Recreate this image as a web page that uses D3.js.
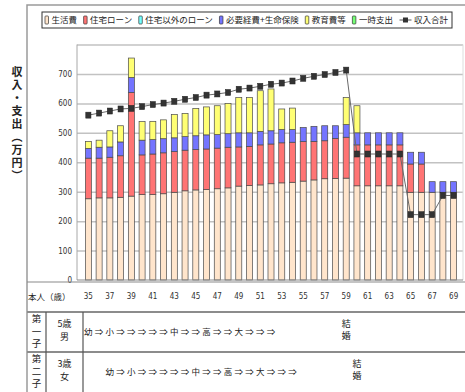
<!DOCTYPE html>
<html>
<head>
<meta charset="utf-8">
<script src="https://cdn.jsdelivr.net/npm/d3@7"></script>
<style>
  html, body { margin: 0; padding: 0; background: #fff; }
  svg { display: block; font-family: "Noto Sans CJK JP", "Noto Sans", sans-serif; }
</style>
</head>
<body>
<svg id="chart" width="465" height="392"></svg>
<script>
// 本人の年齢（横軸）
const ages = [35,36,37,38,39,40,41,42,43,44,45,46,47,48,49,50,51,52,53,54,55,56,57,58,59,60,61,62,63,64,65,66,67,68,69];
const ageLabels = [35,37,39,41,43,45,47,49,51,53,55,57,59,61,63,65,67,69];

// 支出の内訳（万円）
const seriesNames = ["生活費", "住宅ローン", "住宅以外のローン", "必要経費+生命保険", "教育費等", "一時支出"];
const living      = [276,279,279,281,285,290,290,293,298,303,306,307,310,313,319,321,323,327,330,332,336,340,344,345,346,320,320,320,320,320,298,298,298,298,298];
const housingLoan = [138,135,138,141,352,135,138,139,138,138,137,138,138,138,133,133,136,135,136,136,134,131,129,136,139,139,139,139,139,139,96,96,0,0,0];
const otherLoan   = [0,0,0,0,0,0,0,0,0,0,0,0,0,0,0,0,0,0,0,0,0,0,0,0,0,0,0,0,0,0,0,0,0,0,0];
const expenses    = [33,37,35,47,51,50,49,48,47,46,47,48,46,46,48,46,46,45,45,43,48,51,51,43,43,41,41,41,41,41,40,40,36,36,36];
const education   = [24,24,55,55,66,63,62,64,79,79,93,95,98,103,120,120,138,142,70,73,0,0,0,0,92,92,0,0,0,0,0,0,0,0,0];
const oneTime     = [0,0,0,0,0,0,0,0,0,0,0,0,0,0,0,0,0,0,0,0,0,0,0,0,0,0,0,0,0,0,0,0,0,0,0];

// 収入合計（万円）
const incomeName  = "収入合計";
const incomeTotal = [560,567,574,581,583,589,596,601,607,614,620,628,632,637,648,652,658,665,669,676,685,692,698,705,713,428,428,428,428,428,222,222,222,287,287];

const yTicks = [0,100,200,300,400,500,600,700];

// 子どものライフイベント
const children = [
  { title: "第一子", info: ["5歳", "男"], stages: "幼⇒小⇒⇒⇒⇒⇒中⇒⇒高⇒⇒大⇒⇒⇒", startAge: 35, weddingAge: 59 },
  { title: "第二子", info: ["3歳", "女"], stages: "幼⇒小⇒⇒⇒⇒⇒中⇒⇒高⇒⇒大⇒⇒⇒", startAge: 37, weddingAge: 60 }
];

const colors = {
  "生活費": "#ffe5cc",
  "住宅ローン": "#ff7474",
  "住宅以外のローン": "#74ffff",
  "必要経費+生命保険": "#7474ff",
  "教育費等": "#ffff74",
  "一時支出": "#74ff74"
};

const svg = d3.select("#chart");

// frame geometry
const frameLeft = 27, frameTop = 5, W = 465, H = 392;
const plotLeft = 77, plotRight = 463, plotTop = 44.5, plotBottom = 280;
const tableTop = 282, row1Top = 312, row2Top = 352;

const x = d3.scaleBand().domain(ages).range([83, 459]).paddingInner(0.44).paddingOuter(0.22);
const y = d3.scaleLinear().domain([0, 800]).range([plotBottom, plotTop]);

// outer frame
svg.append("path")
  .attr("d", `M${frameLeft},${H} V${frameTop} H${W}`)
  .attr("fill", "none").attr("stroke", "#9a9a9a").attr("stroke-width", 1.5);

// gridlines
const grid = svg.append("g").attr("transform", `translate(${plotLeft},0)`)
  .call(d3.axisLeft(y).tickValues([100,200,300,400,500,600,700,800]).tickSize(-(plotRight - plotLeft)).tickFormat(""));
grid.select(".domain").remove();
grid.selectAll(".tick line").attr("stroke", "#c2c2c2").attr("stroke-width", 1.5);

// plot area left edge and right edge
svg.append("line").attr("x1", plotLeft).attr("x2", plotLeft).attr("y1", plotTop).attr("y2", plotBottom)
  .attr("stroke", "#a8a8a8").attr("stroke-width", 1);
svg.append("line").attr("x1", plotRight).attr("x2", plotRight).attr("y1", plotTop).attr("y2", plotBottom)
  .attr("stroke", "#dddddd").attr("stroke-width", 1);

// y axis labels
const yAxis = svg.append("g").attr("transform", `translate(${plotLeft - 4},0)`)
  .call(d3.axisLeft(y).tickValues(yTicks).tickSize(0).tickPadding(1));
yAxis.select(".domain").remove();
yAxis.selectAll("text").attr("font-family", "'Liberation Sans Narrow','DejaVu Sans Condensed','Liberation Sans',sans-serif")
  .attr("font-size", 8).attr("fill", "#333");

// y axis title (vertical)
svg.append("text")
  .attr("x", 17).attr("y", 66)
  .attr("font-size", 11).attr("font-weight", "bold").attr("fill", "#222")
  .attr("letter-spacing", 2)
  .style("writing-mode", "vertical-rl")
  .text("収入・支出（万円）");

// stacked bars
const rows = ages.map((a, i) => ({
  age: a,
  "生活費": living[i],
  "住宅ローン": housingLoan[i],
  "住宅以外のローン": otherLoan[i],
  "必要経費+生命保険": expenses[i],
  "教育費等": education[i],
  "一時支出": oneTime[i]
}));
const stacked = d3.stack().keys(seriesNames)(rows);

svg.append("g").selectAll("g").data(stacked).join("g")
  .attr("fill", d => colors[d.key])
  .selectAll("rect").data(d => d.filter(s => s[1] - s[0] > 0)).join("rect")
  .attr("x", d => x(d.data.age))
  .attr("width", x.bandwidth())
  .attr("y", d => y(d[1]))
  .attr("height", d => y(d[0]) - y(d[1]))
  .attr("stroke", "#4a4a4a").attr("stroke-width", 0.7);

// x baseline
svg.append("line").attr("x1", plotLeft).attr("x2", plotRight).attr("y1", plotBottom).attr("y2", plotBottom)
  .attr("stroke", "#8a8a8a").attr("stroke-width", 1);

// income line with square markers
const cx = a => x(a) + x.bandwidth() / 2;
const incomePts = ages.map((a, i) => [a, incomeTotal[i]]);
svg.append("path")
  .datum(incomePts)
  .attr("fill", "none").attr("stroke", "#6a6a6a").attr("stroke-width", 1)
  .attr("d", d3.line().x(d => cx(d[0])).y(d => y(d[1])));
svg.append("g").selectAll("rect").data(incomePts).join("rect")
  .attr("x", d => cx(d[0]) - 2.6).attr("y", d => y(d[1]) - 3)
  .attr("width", 5.2).attr("height", 6)
  .attr("fill", "#333").attr("stroke", "#222").attr("stroke-width", 0.5);

// legend
const legend = svg.append("g");
const legendBox = legend.append("rect")
  .attr("x", 42).attr("y", 12).attr("width", 410).attr("height", 16)
  .attr("fill", "#fff").attr("stroke", "#333").attr("stroke-width", 1);
const legendItems = seriesNames.map(n => ({ name: n, type: "bar" })).concat([{ name: incomeName, type: "line" }]);
const lg = legend.selectAll("g.item").data(legendItems).join("g").attr("class", "item");
lg.append("text").attr("y", 23.3).attr("font-size", 8.5).attr("fill", "#222").text(d => d.name);
const symW = d => d.type === "bar" ? 4 : 12;
const textW = [];
lg.select("text").each(function(d, i) { textW[i] = this.getComputedTextLength(); });
const startX = 45, endX = 448;
const fixed = legendItems.reduce((s, d, i) => s + symW(d) + 2.5 + textW[i], 0);
const gap = (endX - startX - fixed) / (legendItems.length - 1);
let cursor = startX;
lg.each(function(d, i) {
  const g = d3.select(this);
  if (d.type === "bar") {
    g.append("rect").attr("x", cursor).attr("y", 16).attr("width", 3.5).attr("height", 8).attr("rx", 0.8)
      .attr("fill", colors[d.name]).attr("stroke", "#333").attr("stroke-width", 0.7);
  } else {
    g.append("line").attr("x1", cursor).attr("x2", cursor + 12).attr("y1", 20).attr("y2", 20)
      .attr("stroke", "#555").attr("stroke-width", 1);
    g.append("rect").attr("x", cursor + 3.5).attr("y", 17.5).attr("width", 5).attr("height", 5).attr("fill", "#333");
  }
  g.select("text").attr("x", cursor + symW(d) + 2.5);
  cursor += symW(d) + 2.5 + textW[i] + gap;
});

// table below the chart
svg.append("line").attr("x1", frameLeft).attr("x2", W).attr("y1", tableTop).attr("y2", tableTop)
  .attr("stroke", "#8a8a8a").attr("stroke-width", 1.2);
[row1Top, row2Top].forEach(yy => {
  svg.append("line").attr("x1", frameLeft).attr("x2", W).attr("y1", yy).attr("y2", yy)
    .attr("stroke", "#8c8c8c").attr("stroke-width", 2.2);
});
[46, 83].forEach(xx => {
  svg.append("line").attr("x1", xx).attr("x2", xx).attr("y1", row1Top).attr("y2", H)
    .attr("stroke", "#555").attr("stroke-width", 1.2);
});

// age row
svg.append("text").attr("x", 28).attr("y", 300).attr("font-size", 8.5).attr("fill", "#222").text("本人（歳）");
const xAxis = svg.append("g").attr("transform", "translate(0,291)")
  .call(d3.axisBottom(x).tickValues(ageLabels).tickSize(0).tickPadding(2));
xAxis.select(".domain").remove();
xAxis.selectAll("text").attr("font-family", "'Liberation Sans Narrow','DejaVu Sans Condensed','Liberation Sans',sans-serif")
  .attr("font-size", 8).attr("fill", "#333");

// child rows
children.forEach((c, k) => {
  const top = k === 0 ? row1Top : row2Top;
  const titleG = svg.append("text").attr("font-size", 9.5).attr("fill", "#222").attr("text-anchor", "middle");
  Array.from(c.title).forEach((ch, j) => {
    titleG.append("tspan").attr("x", 36.5).attr("y", top + 10 + j * 12.5).text(ch);
  });
  const infoG = svg.append("text").attr("font-size", 9).attr("fill", "#222").attr("text-anchor", "middle");
  c.info.forEach((t, j) => {
    infoG.append("tspan").attr("x", 64.5).attr("y", top + 15 + j * 13).text(t);
  });
  const stageText = svg.append("text").attr("font-size", 8.5).attr("fill", "#222").attr("text-anchor", "middle");
  Array.from(c.stages).forEach((ch, j) => {
    stageText.append("tspan").attr("x", cx(c.startAge + j)).attr("y", top + 23).text(ch);
  });
  const wed = svg.append("text").attr("font-size", 9).attr("fill", "#222").attr("text-anchor", "middle");
  Array.from("結婚").forEach((ch, j) => {
    wed.append("tspan").attr("x", cx(c.weddingAge)).attr("y", top + 15 + j * 12).text(ch);
  });
});
</script>
</body>
</html>
